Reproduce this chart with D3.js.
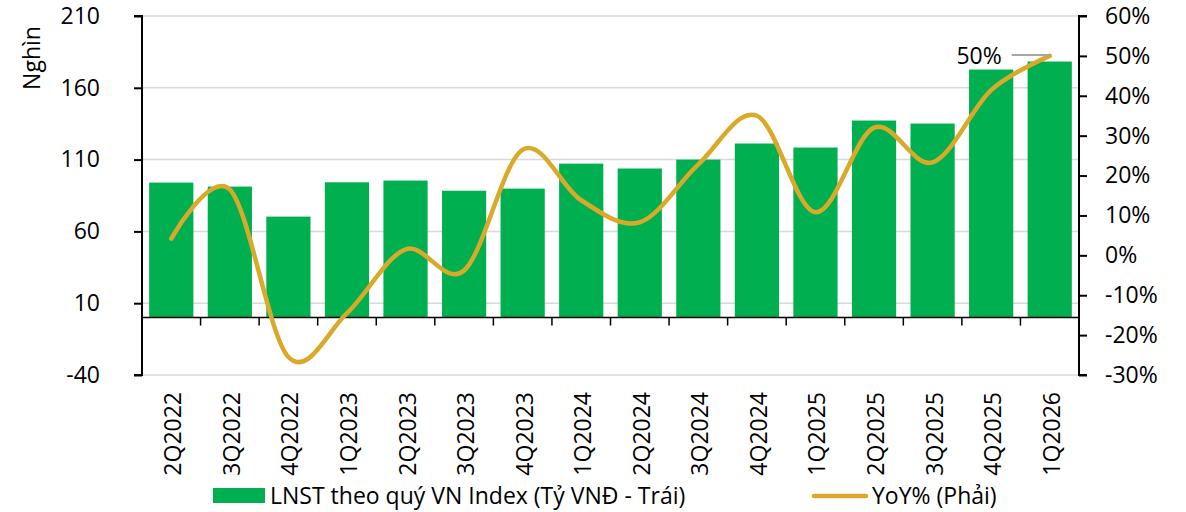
<!DOCTYPE html>
<html>
<head>
<meta charset="utf-8">
<script src="https://cdn.jsdelivr.net/npm/d3@7"></script>
<style>
  body { margin: 0; background: #fff; }
  svg text { font-family: "Open Sans", sans-serif; fill: #000; }
</style>
</head>
<body>
<svg id="chart" width="1186" height="512"></svg>
<script>
// quarterly data
const quarters = ['2Q2022','3Q2022','4Q2022','1Q2023','2Q2023','3Q2023','4Q2023','1Q2024',
                  '2Q2024','3Q2024','4Q2024','1Q2025','2Q2025','3Q2025','4Q2025','1Q2026'];
const profit = [94.0, 91.2, 70.3, 94.2, 95.4, 88.3, 89.8, 107.2, 103.8, 110.0, 121.2, 118.4, 137.2, 135.1, 172.7, 178.3];
const yoy = [0.042, 0.165, -0.255, -0.145, 0.015, -0.038, 0.265, 0.138, 0.083, 0.228, 0.35, 0.108, 0.32, 0.233, 0.414, 0.50];
const leftTicks = [-40, 10, 60, 110, 160, 210];
const rightTicks = [-0.3, -0.2, -0.1, 0, 0.1, 0.2, 0.3, 0.4, 0.5, 0.6];

const svg = d3.select('#chart');
const L = 142, R = 1079, T = 16, B = 375;
const fs = 23;

const x = d3.scaleBand().domain(quarters).range([L, R]).paddingInner(0.245).paddingOuter(0.1225);
const yL = d3.scaleLinear().domain([-40, 210]).range([B, T]);
const yR = d3.scaleLinear().domain([-0.3, 0.6]).range([B, T]);
const pct = d => d3.format('.0%')(d).replace('−', '-');

// gridlines
svg.append('g').selectAll('line').data(leftTicks).join('line')
  .attr('x1', L).attr('x2', R)
  .attr('y1', d => yL(d)).attr('y2', d => yL(d))
  .attr('stroke', '#d9d9d9').attr('stroke-width', 1.5);

// bars
svg.append('g').selectAll('rect').data(profit).join('rect')
  .attr('x', (d, i) => x(quarters[i]))
  .attr('width', x.bandwidth())
  .attr('y', d => yL(d))
  .attr('height', d => yL(0) - yL(d))
  .attr('fill', '#00b050');

// category axis at zero
const step = x.step();
const cat = svg.append('g');
cat.append('line').attr('x1', L).attr('x2', R).attr('y1', yL(0)).attr('y2', yL(0))
  .attr('stroke', '#000').attr('stroke-width', 1.5);
cat.selectAll('line.tk').data(d3.range(quarters.length + 1)).join('line').attr('class', 'tk')
  .attr('x1', i => L + i * step).attr('x2', i => L + i * step)
  .attr('y1', yL(0)).attr('y2', yL(0) + 8)
  .attr('stroke', '#000').attr('stroke-width', 1.5);
cat.selectAll('text').data(quarters).join('text')
  .attr('transform', d => `translate(${x(d) + x.bandwidth() / 2 + 1},392) rotate(-90)`)
  .attr('text-anchor', 'end')
  .attr('dominant-baseline', 'central')
  .attr('font-size', fs)
  .text(d => d);

// left axis
const la = svg.append('g').attr('transform', `translate(${L},0)`)
  .call(d3.axisLeft(yL).tickValues(leftTicks).tickSize(8).tickPadding(34));
la.select('.domain').attr('stroke', '#000').attr('stroke-width', 2).attr('d', `M-8,${T}H0V${B}H-8`);
la.selectAll('.tick line').attr('stroke', '#000').attr('stroke-width', 2);
la.selectAll('.tick text').attr('font-size', fs).attr('font-family', '"Open Sans", sans-serif')
  .text(d => String(d));

// right axis
const ra = svg.append('g').attr('transform', `translate(${R},0)`)
  .call(d3.axisRight(yR).tickValues(rightTicks).tickSize(8).tickPadding(18));
ra.select('.domain').attr('stroke', '#000').attr('stroke-width', 2).attr('d', `M8,${T}H0V${B}H8`);
ra.selectAll('.tick line').attr('stroke', '#000').attr('stroke-width', 2);
ra.selectAll('.tick text').attr('font-size', fs).attr('font-family', '"Open Sans", sans-serif')
  .text(pct);

// yoy line
const line = d3.line()
  .x((d, i) => x(quarters[i]) + x.bandwidth() / 2)
  .y(d => yR(d))
  .curve(d3.curveCardinal.tension(0));
svg.append('path').datum(yoy)
  .attr('d', line)
  .attr('fill', 'none')
  .attr('stroke', '#daa929')
  .attr('stroke-width', 4.5)
  .attr('stroke-linecap', 'round');

// label for last point
const lastI = yoy.length - 1;
const lx = x(quarters[lastI]) + x.bandwidth() / 2, ly = yR(yoy[lastI]);
svg.append('line').attr('x1', lx - 38).attr('x2', lx).attr('y1', ly - 1).attr('y2', ly - 1)
  .attr('stroke', '#a6a6a6').attr('stroke-width', 2);
svg.append('text').attr('x', lx - 48).attr('y', ly + 8).attr('text-anchor', 'end')
  .attr('font-size', fs).text(pct(yoy[lastI]));

// y title
svg.append('text').attr('transform', 'translate(31,58) rotate(-90)')
  .attr('text-anchor', 'middle').attr('dominant-baseline', 'central')
  .attr('font-size', fs).text('Nghìn');

// legend
const lg = svg.append('g');
lg.append('rect').attr('x', 213).attr('y', 488).attr('width', 52).attr('height', 15).attr('fill', '#00b050');
lg.append('text').attr('x', 270).attr('y', 504).attr('font-size', fs).text('LNST theo quý VN Index (Tỷ VNĐ - Trái)');
lg.append('line').attr('x1', 814).attr('x2', 866).attr('y1', 496).attr('y2', 496)
  .attr('stroke', '#daa929').attr('stroke-width', 4.5).attr('stroke-linecap', 'round');
lg.append('text').attr('x', 872).attr('y', 504).attr('font-size', fs).text('YoY% (Phải)');
</script>
</body>
</html>
